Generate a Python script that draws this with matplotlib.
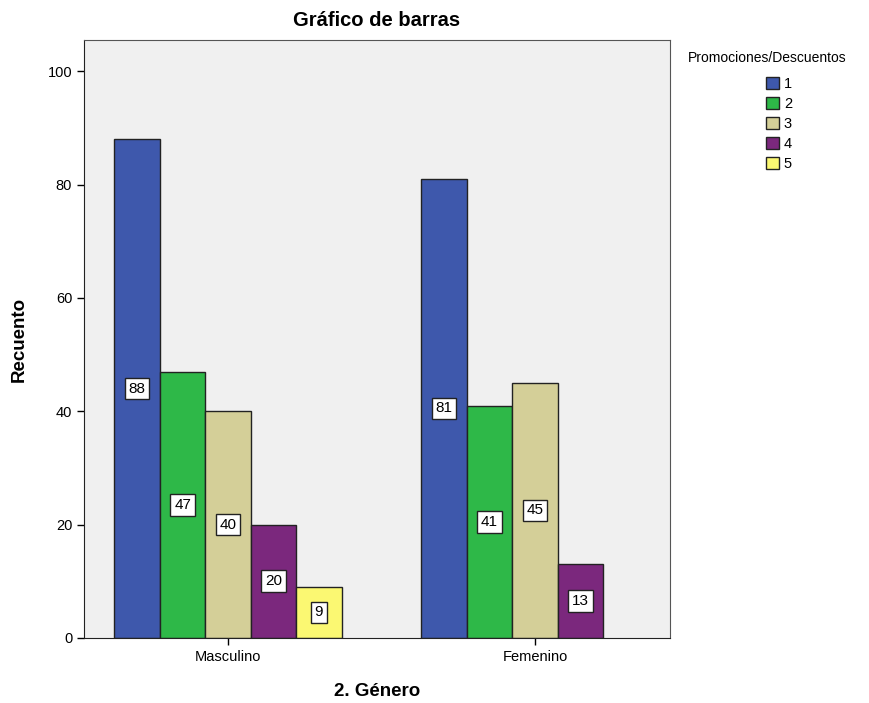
import numpy as np
import matplotlib
matplotlib.use('Agg')
import matplotlib.pyplot as plt
from matplotlib.patches import Patch

plt.rcParams['font.family'] = ['Liberation Sans', 'DejaVu Sans']

#-----------------------------
#values
grupos = ['Masculino', 'Femenino']
categorias = ['1', '2', '3', '4', '5']
valores = {
    '1': [88, 81],
    '2': [47, 41],
    '3': [40, 45],
    '4': [20, 13],
    '5': [9, None],
}
colores = ['#3E58AC', '#2EB848', '#D4CF98', '#7B287D', '#FBF872']

#------------------------------
#figure
fig = plt.figure(figsize=(8.69, 7.03), dpi=100)
ax = fig.add_axes([0.0967, 0.0925, 0.6743, 0.8505])
ax.set_facecolor('#F0F0F0')

w = 0.148
x = np.arange(len(grupos))
for i, (cat, col) in enumerate(zip(categorias, colores)):
    off = (i - 2) * w
    for j, v in enumerate(valores[cat]):
        if v is None:
            continue
        ax.bar(x[j] + off, v, width=w, color=col, edgecolor='#222222', linewidth=1.0)
        ax.text(x[j] + off, v / 2, str(v), ha='center', va='center', fontsize=11,
                bbox=dict(boxstyle='square,pad=0.25', facecolor='white',
                          edgecolor='#222222', linewidth=1.0))

ax.set_xlim(-0.469, 1.44)
ax.set_ylim(0, 105.5)
ax.set_yticks([0, 20, 40, 60, 80, 100])
ax.set_xticks(x)
ax.set_xticklabels(grupos)
ax.tick_params(axis='both', labelsize=10.5, direction='out', length=5, width=1)

for s in ['left', 'bottom']:
    ax.spines[s].set_color('#222222')
for s in ['top', 'right']:
    ax.spines[s].set_color('#555555')

ax.set_title('Gráfico de barras', fontsize=14.5, fontweight='bold', pad=10)
ax.set_ylabel('Recuento', fontsize=13.5, fontweight='bold', labelpad=14)
ax.set_xlabel('2. Género', fontsize=13.5, fontweight='bold', labelpad=14)

#------------------------------
#legend
fig.text(688 / 869, 1 - 58 / 703, 'Promociones/Descuentos', fontsize=10,
         ha='left', va='center')
handles = [Patch(facecolor=c, edgecolor='#222222', label=l) for c, l in zip(colores, categorias)]
fig.legend(handles=handles, loc='upper left',
           bbox_to_anchor=(759 / 869, 1 - 70 / 703), frameon=False, fontsize=10.5,
           handlelength=0.9, handleheight=0.9,
           handletextpad=0.3, labelspacing=0.4, borderpad=0.0)

fig.savefig('out.png', dpi=100)
